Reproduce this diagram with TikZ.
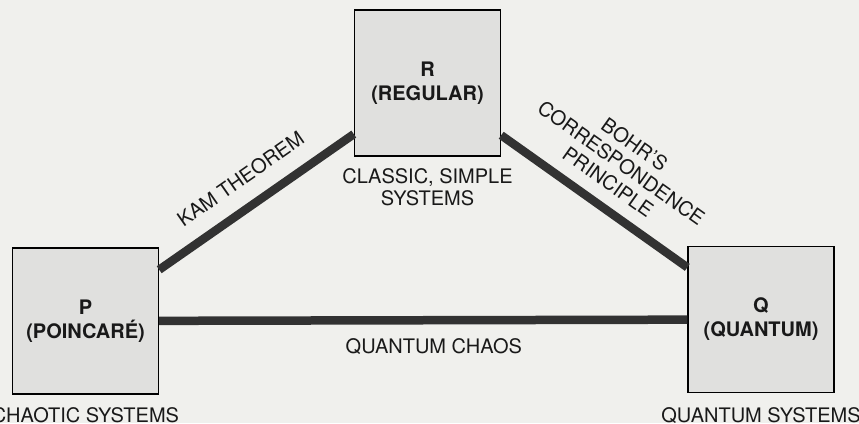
\documentclass[tikz,border=0pt]{standalone}
\usepackage{fontspec}
\setmainfont{TeX Gyre Heros}
\usetikzlibrary{positioning}
\definecolor{paper}{RGB}{240,240,237}
\definecolor{boxgray}{RGB}{224,224,222}
\definecolor{linkgray}{RGB}{50,50,50}
\definecolor{inkgray}{RGB}{25,25,25}
\begin{document}
\begin{tikzpicture}[x=1pt,y=1pt,
  sysbox/.style={draw=black,line width=1.4pt,fill=boxgray,minimum size=146pt,
    inner sep=0pt,text=inkgray,font=\fontsize{20}{24}\selectfont\bfseries,align=center},
  link/.style={draw=linkgray,line width=8.5pt},
  caption/.style={text=inkgray,font=\fontsize{20}{22}\selectfont,align=center,inner sep=0pt},
  linklabel/.style={text=inkgray,font=\fontsize{20}{23}\selectfont,align=center,inner sep=0pt,sloped}]
  \path[use as bounding box,fill=paper] (0,0) rectangle (859,423);
  % the three kinds of systems
  \node[sysbox] (P) at (85.5,102) {P\\(POINCARÉ)};
  \node[sysbox] (R) at (427.5,340) {R\\(REGULAR)};
  \node[sysbox] (Q) at (761,103.5) {Q\\(QUANTUM)};
  \node[caption,below=13pt of P] (Pcap) {CHAOTIC SYSTEMS};
  \node[caption,below=12pt of R] (Rcap) {CLASSIC, SIMPLE\\SYSTEMS};
  \node[caption,below=14pt of Q] (Qcap) {QUANTUM SYSTEMS};
  % the bridges between them
  \draw[link] (P) -- node[linklabel,above=16pt] (kam) {KAM THEOREM} (R);
  \draw[link] (R) -- node[linklabel,pos=0.5,above=12pt] (bohr)
    {BOHR'S\\CORRESPONDENCE\\PRINCIPLE} (Q);
  \draw[link] (P) -- node[caption,pos=0.52,below=14pt] (qchaos) {QUANTUM CHAOS} (Q);
\end{tikzpicture}
\end{document}
